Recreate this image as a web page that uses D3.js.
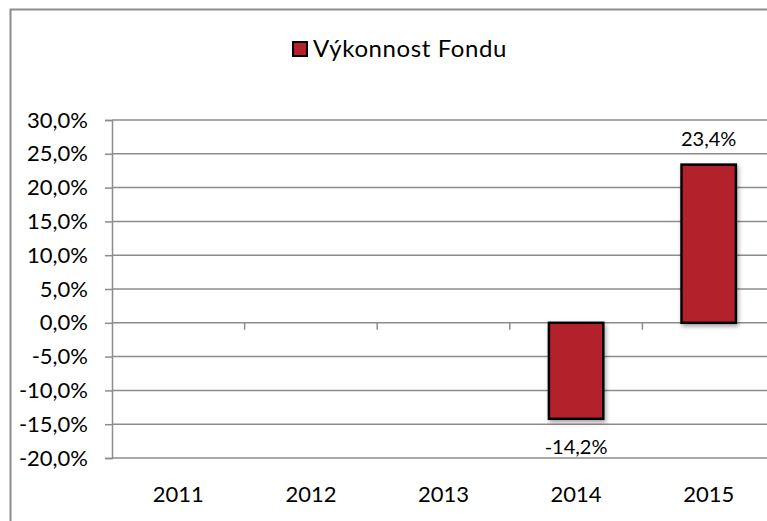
<!DOCTYPE html>
<html>
<head>
<meta charset="utf-8">
<script src="https://cdn.jsdelivr.net/npm/d3@7"></script>
<style>
    body { margin: 0; background: #fff; overflow: hidden; }
    svg { display: block; }
    svg text { font-family: Lato, "Open Sans", sans-serif; fill: #000; }
</style>
</head>
<body>
<svg id="chart" width="767" height="521"></svg>
<script>
// chart data
const years = ["2011", "2012", "2013", "2014", "2015"];
const performance = [null, null, null, -14.2, 23.4];
const yTicks = [-20, -15, -10, -5, 0, 5, 10, 15, 20, 25, 30];
const seriesName = "Výkonnost Fondu";

const barColour = "#b3222a",
    gridColour = "#8c8c8c";

const svg = d3.select("#chart");

const margin = {top: 120, left: 112, bottom: 63},
    plotRight = 775,
    plotBottom = 521 - margin.bottom;

// Czech number format: decimal comma, plain hyphen as minus
const locale = d3.formatLocale({decimal: ",", thousands: " ", grouping: [3], currency: ["", " Kč"], minus: "-"});
const fmt = locale.format(".1f");
const pct = v => fmt(v) + "%";

// chart frame: only the left and top edges are inside the picture
svg.append("path")
    .attr("d", "M10.5,521V9.5H767")
    .attr("fill", "none")
    .attr("stroke", gridColour)
    .attr("stroke-width", 2);

let x = d3.scaleBand()
    .domain(years)
    .range([margin.left, plotRight])
    .paddingInner(0.59)
    .paddingOuter(0.295);

let y = d3.scaleLinear()
    .domain([d3.min(yTicks), d3.max(yTicks)])
    .range([plotBottom, margin.top]);

// horizontal gridlines
svg.append("g")
    .selectAll("line")
    .data(yTicks)
    .enter()
    .append("line")
    .attr("x1", margin.left)
    .attr("x2", 767)
    .attr("y1", d => y(d))
    .attr("y2", d => y(d))
    .attr("stroke", gridColour)
    .attr("stroke-width", 1.5);

// y axis
const yAxis = svg.append("g")
    .attr("transform", `translate(${margin.left},0)`)
    .call(d3.axisLeft(y).tickValues(yTicks).tickFormat(pct).tickSize(7).tickPadding(17));
yAxis.select(".domain").attr("stroke", gridColour).attr("stroke-width", 1.5);
yAxis.selectAll(".tick line").attr("stroke", gridColour).attr("stroke-width", 1.5);
yAxis.selectAll(".tick text")
    .attr("x", -24)
    .style("font-size", "22px");

// category boundary ticks on the zero line
const step = x.step();
svg.append("g")
    .selectAll("line")
    .data(years)
    .enter()
    .append("line")
    .attr("x1", (d, i) => margin.left + step * (i + 1))
    .attr("x2", (d, i) => margin.left + step * (i + 1))
    .attr("y1", y(0))
    .attr("y2", y(0) + 7)
    .attr("stroke", gridColour)
    .attr("stroke-width", 1.5);

// x labels
svg.append("g")
    .selectAll("text")
    .data(years)
    .enter()
    .append("text")
    .attr("x", d => x(d) + x.bandwidth() / 2)
    .attr("y", 502)
    .attr("text-anchor", "middle")
    .style("font-size", "22px")
    .text(d => d);

// bar shadow
const defs = svg.append("defs");
const shadow = defs.append("filter")
    .attr("id", "shadow")
    .attr("x", "-20%").attr("y", "-20%")
    .attr("width", "140%").attr("height", "140%");
shadow.append("feDropShadow")
    .attr("dx", 1.5).attr("dy", 2.5)
    .attr("stdDeviation", 2)
    .attr("flood-color", "#000")
    .attr("flood-opacity", 0.35);

const bars = years.map((d, i) => ({year: d, value: performance[i]}))
    .filter(d => d.value !== null);

svg.append("g")
    .selectAll("rect")
    .data(bars)
    .enter()
    .append("rect")
    .attr("x", d => x(d.year))
    .attr("y", d => y(Math.max(0, d.value)))
    .attr("width", x.bandwidth())
    .attr("height", d => Math.abs(y(d.value) - y(0)))
    .attr("fill", barColour)
    .attr("stroke", "#000")
    .attr("stroke-width", 2.5)
    .attr("filter", "url(#shadow)");

// data labels
svg.append("g")
    .selectAll("text")
    .data(bars)
    .enter()
    .append("text")
    .attr("x", d => x(d.year) + x.bandwidth() / 2)
    .attr("y", d => d.value >= 0 ? y(d.value) - 19 : y(d.value) + 35)
    .attr("text-anchor", "middle")
    .style("font-size", "20px")
    .text(d => pct(d.value));

// legend
const legend = svg.append("g").attr("transform", "translate(292,41)");
legend.append("rect")
    .attr("x", 1)
    .attr("y", 1)
    .attr("width", 14)
    .attr("height", 14)
    .attr("fill", barColour)
    .attr("stroke", "#000")
    .attr("stroke-width", 2);
legend.append("text")
    .attr("x", 21)
    .attr("y", 16)
    .style("font-size", "24px")
    .style("letter-spacing", "0.6px")
    .text(seriesName);
</script>
</body>
</html>
